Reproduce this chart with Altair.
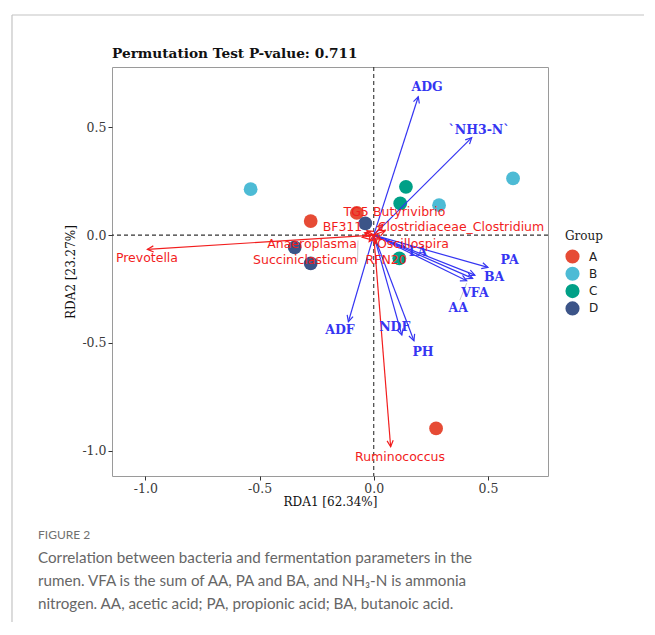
import altair as alt
import pandas as pd
import numpy as np

# ---------------- data ----------------
groups = ["A", "A", "A", "B", "B", "B", "C", "C", "C", "D", "D", "D"]
rda1 = [-0.074, -0.276, 0.273, -0.539, 0.610, 0.286, 0.141, 0.116, 0.112, -0.037, -0.346, -0.276]
rda2 = [0.103, 0.065, -0.897, 0.213, 0.263, 0.139, 0.224, 0.147, -0.108, 0.054, -0.057, -0.131]

group_levels = ["A", "B", "C", "D"]
group_colors = ["#E64B35", "#4DBBD5", "#00A087", "#3C5488"]

env_names = ["ADG", "`NH3-N`", "PA", "BA", "VFA", "AA", "LA", "ADF", "NDF", "PH"]
env_x = [0.195, 0.429, 0.500, 0.443, 0.433, 0.407, 0.137, -0.111, 0.123, 0.176]
env_y = [0.642, 0.452, -0.150, -0.186, -0.201, -0.212, -0.056, -0.402, -0.464, -0.490]
env_lx = [0.234, 0.461, 0.595, 0.527, 0.443, 0.370, 0.194, -0.148, 0.092, 0.216]
env_ly = [0.688, 0.487, -0.116, -0.196, -0.268, -0.340, -0.077, -0.441, -0.428, -0.541]

sp_names = ["Prevotella", "Ruminococcus", "TG5", "Butyrivibrio", "BF311",
            "Clostridiaceae_Clostridium", "Anaeroplasma", "Oscillospira",
            "Succiniclasticum", "RFN20"]
sp_x = [-0.991, 0.074, -0.030, 0.040, -0.040, 0.050, -0.050, 0.030, -0.020, 0.010]
sp_y = [-0.066, -0.982, 0.020, 0.050, 0.010, 0.020, -0.010, -0.020, -0.030, -0.040]
sp_lx = [-0.993, 0.115, -0.077, 0.155, -0.137, 0.382, -0.270, 0.172, -0.300, 0.054]
sp_ly = [-0.108, -1.030, 0.108, 0.107, 0.039, 0.037, -0.042, -0.042, -0.116, -0.116]

# label leader segments (ggrepel)
seg_x = [0.377, -0.069]
seg_y = [-0.302, -0.025]
seg_x2 = [0.407, -0.071]
seg_y2 = [-0.223, -0.125]

title_text = "Permutation Test P-value: 0.711"
x_title = "RDA1 [62.34%]"
y_title = "RDA2 [23.27%]"
tick_vals = [-1.0, -0.5, 0.0, 0.5]

fig_label = "FIGURE 2"
caption_lines = [
    "Correlation between bacteria and fermentation parameters in the",
    "rumen. VFA is the sum of AA, PA and BA, and NH\u2083-N is ammonia",
    "nitrogen. AA, acetic acid; PA, propionic acid; BA, butanoic acid.",
]

# ---------------- layout ----------------
W, H = 436, 409
XDOM = [-1.146, 0.763]
YDOM = [-1.118, 0.780]
sx = W / (XDOM[1] - XDOM[0])
sy = H / (YDOM[1] - YDOM[0])

BLUE = "#3535F2"
RED = "#F21D1D"
CAP_FONT = "Lato"

xs = alt.Scale(domain=XDOM, nice=False, zero=False)
ys = alt.Scale(domain=YDOM, nice=False, zero=False)

lab_expr = "datum.value < 0 ? '-' + format(abs(datum.value), '.1f') : format(datum.value, '.1f')"
x_axis = alt.Axis(values=tick_vals, labelExpr=lab_expr, labelPadding=2, titlePadding=2)
y_axis = alt.Axis(values=tick_vals, labelExpr=lab_expr, labelPadding=2, titlePadding=4)


def X(f):
    return alt.X(f, scale=xs, axis=x_axis, title=x_title)


def Y(f):
    return alt.Y(f, scale=ys, axis=y_axis, title=y_title)


def arrow_df(names, xv, yv, lx, ly):
    df = pd.DataFrame(dict(name=names, x=xv, y=yv, lx=lx, ly=ly))
    df["x0"] = 0.0
    df["y0"] = 0.0
    df["angle"] = (np.degrees(np.arctan2(df["x"] * sx, df["y"] * sy)) + 360) % 360
    return df


env = arrow_df(env_names, env_x, env_y, env_lx, env_ly)
sp = arrow_df(sp_names, sp_x, sp_y, sp_lx, sp_ly)
pts = pd.DataFrame(dict(group=groups, x=rda1, y=rda2))
segs = pd.DataFrame(dict(x=seg_x, y=seg_y, x2=seg_x2, y2=seg_y2))
zero = pd.DataFrame(dict(x=[0.0], y=[0.0]))
one = pd.DataFrame(dict(a=[0]))

ARROW = "M-0.5,1L0,0L0.5,1"

points = alt.Chart(pts).mark_circle(size=190, opacity=1).encode(
    x=X("x:Q"), y=Y("y:Q"),
    color=alt.Color("group:N",
                    scale=alt.Scale(domain=group_levels, range=group_colors),
                    legend=alt.Legend(title="Group", orient="none", legendX=453, legendY=164,
                                      titleFont="DejaVu Serif", titleFontSize=12,
                                      titleFontWeight="normal", titleColor="#222",
                                      labelFont="DejaVu Sans", labelFontSize=12,
                                      labelColor="#222",
                                      symbolType="circle", symbolSize=200,
                                      symbolStrokeWidth=0, symbolOpacity=1,
                                      rowPadding=2.3, titlePadding=6, labelOffset=9)),
)

vline = alt.Chart(zero).mark_rule(color="#333333", strokeDash=[4, 3], strokeWidth=1.1).encode(
    x=X("x:Q"))
hline = alt.Chart(zero).mark_rule(color="#333333", strokeDash=[4, 3], strokeWidth=1.1).encode(
    y=Y("y:Q"))


def arrows(df, color, font, weight, size):
    r = alt.Chart(df).mark_rule(color=color, strokeWidth=1.2).encode(
        x=X("x0:Q"), y=Y("y0:Q"), x2="x:Q", y2="y:Q")
    h = alt.Chart(df).mark_point(shape=ARROW, filled=False, color=color, strokeWidth=1.2,
                                 size=150, opacity=1).encode(
        x=X("x:Q"), y=Y("y:Q"), angle=alt.Angle("angle:Q", scale=None))
    t = alt.Chart(df).mark_text(color=color, font=font, fontWeight=weight, fontSize=size,
                                baseline="middle", align="center").encode(
        x=X("lx:Q"), y=Y("ly:Q"), text="name:N")
    return r, h, t


er, eh, et = arrows(env, BLUE, "DejaVu Serif", "bold", 12.5)
sr, sh, st = arrows(sp, RED, "DejaVu Sans", "normal", 12.5)

seg_layer = alt.Chart(segs).mark_rule(color="#bbbbbb", strokeWidth=0.8).encode(
    x=X("x:Q"), y=Y("y:Q"), x2="x2:Q", y2="y2:Q")

# title drawn as text so it is not pushed by the frame lines
title_layer = alt.Chart(one).mark_text(text=title_text, font="DejaVu Serif", fontWeight="bold",
                                       fontSize=13.7, color="#111111", align="left",
                                       baseline="alphabetic").encode(
    x=alt.value(0), y=alt.value(-9))

# figure frame lines
frame_top = alt.Chart(one).mark_rule(color="#c4c4c4", strokeWidth=1.2).encode(
    x=alt.value(-100), x2=alt.value(W + 120), y=alt.value(-52))
frame_left = alt.Chart(one).mark_rule(color="#c4c4c4", strokeWidth=1.2).encode(
    x=alt.value(-100), y=alt.value(-52), y2=alt.value(H + 200))

cap_layers = [alt.Chart(one).mark_text(text=fig_label, font=CAP_FONT, fontSize=12,
                                       color="#707070", align="left", baseline="middle").encode(
    x=alt.value(-74), y=alt.value(468))]
for i, line in enumerate(caption_lines):
    cap_layers.append(alt.Chart(one).mark_text(text=line, font=CAP_FONT, fontSize=15.2,
                                               color="#666666", align="left",
                                               baseline="middle").encode(
        x=alt.value(-74), y=alt.value(491 + 23 * i)))

chart = alt.layer(
    vline, hline, seg_layer, points, er, eh, sr, sh, et, st, title_layer,
    frame_top, frame_left, *cap_layers
).properties(
    width=W, height=H,
    autosize=alt.AutoSizeParams(type="none"),
    padding={"left": 104, "top": 59, "right": 96, "bottom": 146},
).configure_view(
    stroke="#9a9a9a", strokeWidth=1
).configure_axis(
    domain=False, grid=False, tickColor="#333333", tickSize=4,
    labelFont="DejaVu Serif", labelFontSize=12.5, labelColor="#3a3a3a",
    titleFont="DejaVu Serif", titleFontSize=12, titleFontWeight="normal", titleColor="#111111",
)

chart.save("out.html", embed_options={"renderer": "svg", "actions": False})
